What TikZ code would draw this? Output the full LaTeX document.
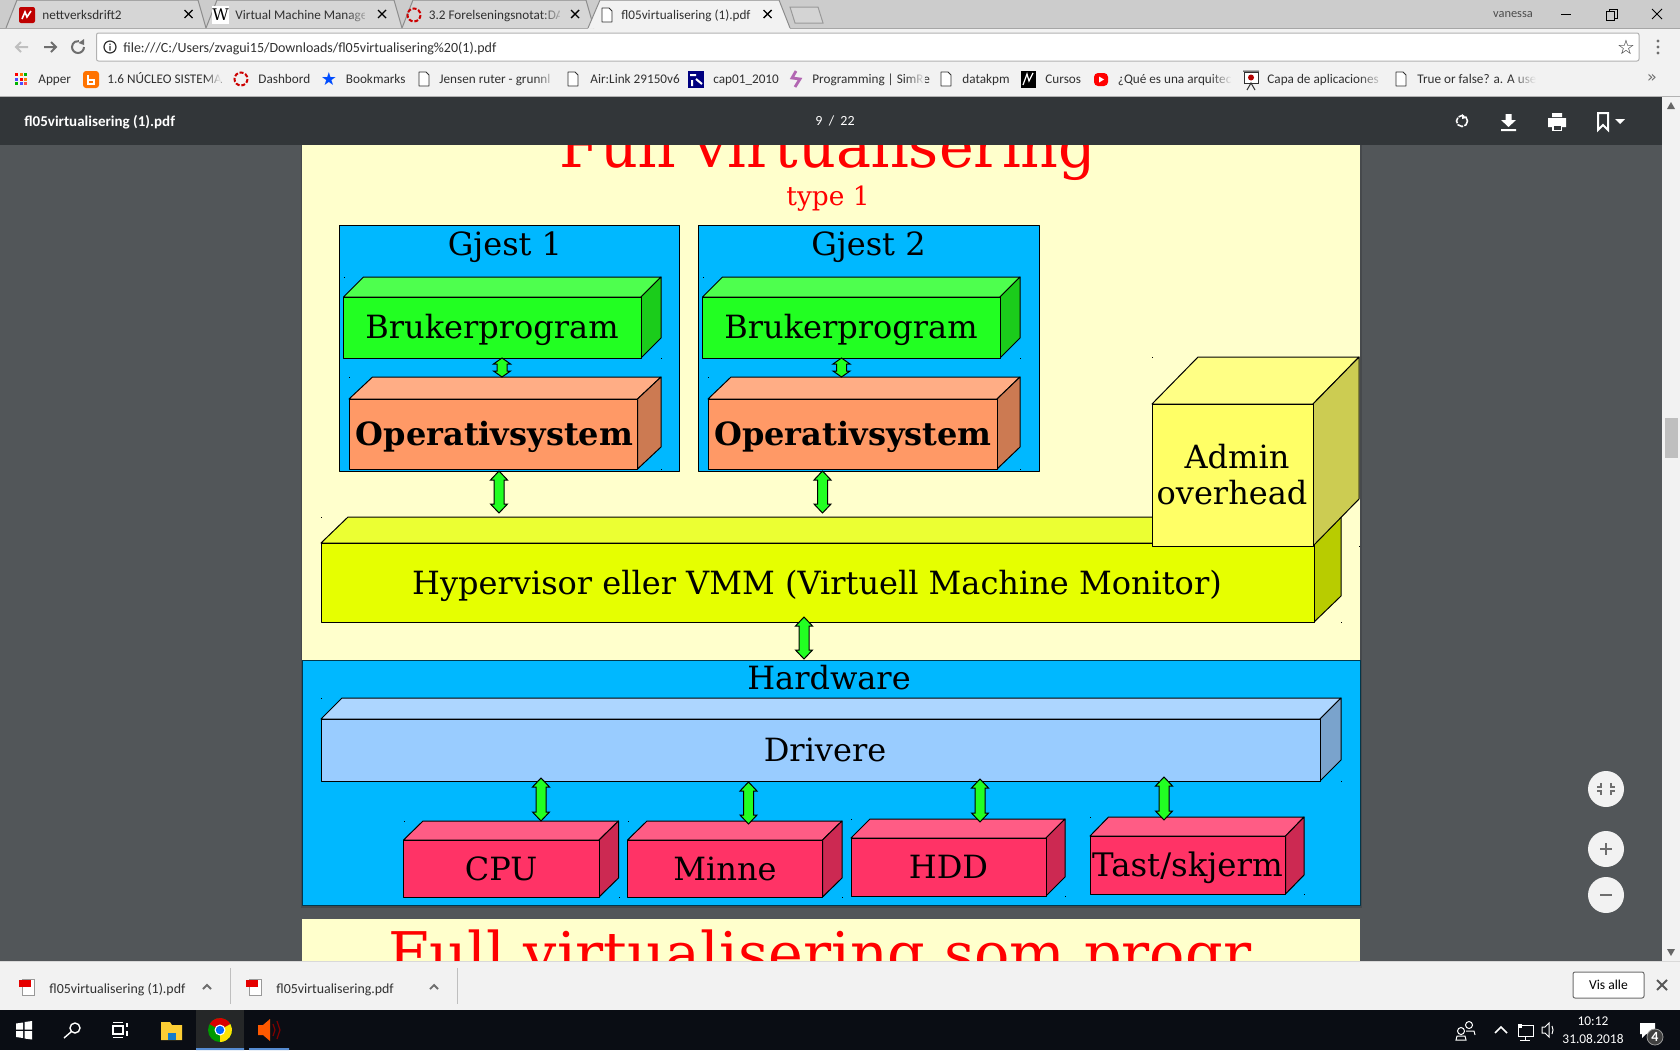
\documentclass[tikz,border=0pt]{standalone}
\usepackage{fontspec}
\setmainfont{DejaVu Serif}
\newfontfamily\uifont{Carlito}
\newfontfamily\symfont{DejaVu Sans}
\usetikzlibrary{calc,fadings}

\definecolor{greybg}{HTML}{525659}
\definecolor{pagebg}{HTML}{FFFFCC}
\definecolor{hwblue}{HTML}{00B8FF}
\definecolor{usergreen}{HTML}{22FF22}
\definecolor{osorange}{HTML}{FF9966}
\definecolor{vmmyellow}{HTML}{E6FF00}
\definecolor{adminyellow}{HTML}{FFFF66}
\definecolor{drvblue}{HTML}{99CCFF}
\definecolor{devred}{HTML}{FF3366}
\definecolor{tabgrey}{HTML}{CCCCCC}
\definecolor{tabon}{HTML}{F2F2F2}
\definecolor{taboff}{HTML}{D6D6D6}
\definecolor{pdfbar}{HTML}{323639}
\definecolor{taskbar}{HTML}{0A0D14}
\definecolor{uitext}{HTML}{303030}
\definecolor{uigrey}{HTML}{6E6E6E}

\tikzset{
	edge/.style={draw=black, line width=0.5pt, inner sep=0pt, outer sep=0pt, line join=round},
	boxlabel/.style={anchor=base, inner sep=0pt, font=\fontsize{16}{18}\selectfont},
	dblarrow/.style={draw=black, line width=0.5pt, fill=usergreen, line join=miter},
	uilabel/.style={anchor=base west, inner sep=0pt, text=uitext, font=\uifont\fontsize{6.6}{8}\selectfont},
	whitelabel/.style={inner sep=0pt, text=white, font=\uifont\fontsize{6.7}{8}\selectfont},
	iconline/.style={draw=uigrey, line width=0.6pt, line cap=round, line join=round},
}

\newcommand{\threebox}[8]{%
	\draw[edge, fill=#8!80!white] (#2,#3) -- ({#2+#6},{#3-#7}) -- ({#4+#6},{#3-#7}) -- (#4,#3) -- cycle;
	\draw[edge, fill=#8!80!black] (#4,#3) -- ({#4+#6},{#3-#7}) -- ({#4+#6},{#5-#7}) -- (#4,#5) -- cycle;
	\node[edge, fill=#8, anchor=north west, minimum width={(#4-#2)*0.5pt}, minimum height={(#5-#3)*0.5pt}] (#1) at (#2,#3) {};
	\coordinate (#1-top) at (#4,{#3-#7});
	\fill[black] (#2,{#3-#7}) rectangle ++(1,1);
	\fill[black] ({#4+#6},#5) rectangle ++(1,1);
}
\newcommand{\updown}[6][4.5pt]{%
	\draw[dblarrow] let \p1=(#3), \p2=(#4) in
		({#2*0.5pt},{\y1+(#5)*0.5pt}) -- ({#2*0.5pt+4.25pt},{\y1+(#5)*0.5pt-#1}) -- ({#2*0.5pt+2.5pt},{\y1+(#5)*0.5pt-#1})
		-- ({#2*0.5pt+2.5pt},{\y2+(#6)*0.5pt+#1}) -- ({#2*0.5pt+4.25pt},{\y2+(#6)*0.5pt+#1}) -- ({#2*0.5pt},{\y2+(#6)*0.5pt})
		-- ({#2*0.5pt-4.25pt},{\y2+(#6)*0.5pt+#1}) -- ({#2*0.5pt-2.5pt},{\y2+(#6)*0.5pt+#1})
		-- ({#2*0.5pt-2.5pt},{\y1+(#5)*0.5pt-#1}) -- ({#2*0.5pt-4.25pt},{\y1+(#5)*0.5pt-#1}) -- cycle;
}
\newcommand{\docicon}[2]{%
	\draw[iconline, draw=uitext, line width=0.4pt, fill=white] (#1-5,#2-7) -- (#1+2,#2-7) -- (#1+5,#2-4) -- (#1+5,#2+7) -- (#1-5,#2+7) -- cycle;
}
\newcommand{\dashring}[2]{%
	\draw[draw=red!80!black, line width=1pt, dash pattern=on 2pt off 0.9pt] (#1,#2) circle (6.5);
}
\newcommand{\pdficon}[2]{%
	\fill[white] (#1-6,#2-8) rectangle (#1+6,#2+8);
	\draw[line width=0.3pt, draw=black!40] (#1-6,#2-8) rectangle (#1+6,#2+8);
	\fill[red!90!black] (#1-9,#2-7) rectangle (#1+3,#2);
}

\begin{document}
\begin{tikzpicture}[x=0.5pt, y=-0.5pt]
	\useasboundingbox (0,0) rectangle (1680,1050);
	\fill[greybg] (0,0) rectangle (1680,1050);

	% pdf pages
	\fill[black!15!greybg] (301,145) rectangle (1362,908);
	\fill[pagebg] (302,145) rectangle (1360,660);
	\fill[pagebg] (302,919) rectangle (1360,961);
	\node[anchor=base, inner sep=0pt, text=red, font=\fontsize{29.4}{32}\selectfont] (title) at (828,167) {Full virtualisering};
	\node[anchor=base, inner sep=0pt, text=red, font=\fontsize{13.2}{15}\selectfont] (subtitle) at (828,205) {type 1};
	\node[anchor=base, inner sep=0pt, text=red, font=\fontsize{29.4}{32}\selectfont] (nexttitle) at (820,974) {Full virtualisering som progr};

	\node[edge, fill=hwblue, anchor=north west, minimum width=170pt, minimum height=123pt] (gjest1) at (339.5,225) {};
	\node[edge, fill=hwblue, anchor=north west, minimum width=170.5pt, minimum height=123pt] (gjest2) at (698,225) {};
	\node[boxlabel] (gjest1txt) at (505,255) {Gjest 1};
	\node[boxlabel] (gjest2txt) at (868.5,255) {Gjest 2};

	\threebox{bruker1}{343.5}{297}{641}{358}{20}{20}{usergreen}
	\threebox{bruker2}{702.5}{297}{1000}{358}{20}{20}{usergreen}
	\threebox{os1}{349}{399}{637.5}{469}{23.5}{22}{osorange}
	\threebox{os2}{708}{399}{997}{469}{23}{22}{osorange}
	\node[boxlabel] (bruker1txt) at (492,338.5) {Brukerprogram};
	\node[boxlabel] (bruker2txt) at (851,338.5) {Brukerprogram};
	\node[boxlabel, font=\fontsize{16}{18}\selectfont\bfseries] (os1txt) at (494.5,445) {Operativsystem};
	\node[boxlabel, font=\fontsize{16}{18}\selectfont\bfseries] (os2txt) at (853,445) {Operativsystem};

	\updown[3pt]{502}{bruker1.south}{os1-top}{0}{0}
	\updown[3pt]{841.5}{bruker2.south}{os2-top}{0}{0}

	\threebox{vmm}{321}{543}{1314}{622}{27}{26}{vmmyellow}
	\node[boxlabel] (vmmtxt) at (817,594) {Hypervisor eller VMM (Virtuell Machine Monitor)};
	\threebox{admin}{1152}{404}{1313}{546}{46}{47}{adminyellow}
	\node[boxlabel] (admintxt) at (1237,468) {Admin};
	\node[boxlabel] (overheadtxt) at (1232,504) {overhead};

	\updown{499}{gjest1.south}{vmm-top}{0}{4}
	\updown{822.5}{gjest2.south}{vmm-top}{0}{4}

	% hardware
	\node[edge, draw=black!70!hwblue, fill=hwblue, anchor=north west, minimum width=529pt, minimum height=122.5pt] (hw) at (302,660) {};
	\updown{804}{vmm.south}{hw.north}{5}{1}
	\node[boxlabel] (hwtxt) at (829,689) {Hardware};
	\threebox{drivere}{321}{719}{1320}{781}{21}{21}{drvblue}
	\node[boxlabel] (driveretxt) at (825,761) {Drivere};

	\threebox{cpu}{403.5}{840}{599}{897}{19.5}{19}{devred}
	\threebox{minne}{627.5}{840}{822.5}{897}{19.5}{19}{devred}
	\threebox{hdd}{851}{838}{1046}{896}{19}{19}{devred}
	\threebox{tast}{1090}{836}{1285.5}{894}{18.5}{19}{devred}
	\node[boxlabel] (cputxt) at (501,880) {CPU};
	\node[boxlabel] (minnetxt) at (725,880) {Minne};
	\node[boxlabel] (hddtxt) at (948.5,878) {HDD};
	\node[boxlabel, font=\fontsize{16.2}{18}\selectfont] (tasttxt) at (1187.5,876) {Tast/skjerm};

	\updown{541}{drivere.south}{cpu-top}{3}{0}
	\updown{748.5}{drivere.south}{minne-top}{-1}{-3}
	\updown{980}{drivere.south}{hdd-top}{2}{-3}
	\updown{1164}{drivere.south}{tast-top}{4}{-3}

	% tab strip and browser bars
	\fill[tabgrey] (0,0) rectangle (1680,28);
	\fill[tabon] (0,28) rectangle (1680,97);
	\draw[black!35, line width=0.5pt] (0,28) -- (588,28) (790,28) -- (1680,28);
	\draw[black!30, line width=0.6pt] (0,96.5) -- (1680,96.5);
	\foreach \a/\b/\c/\d in {6/17/198/206, 206/217/394/402, 402/413/586/594}
		\draw[draw=black!45, fill=taboff, line width=0.5pt] (\a,28) -- (\b,0) -- (\c,0) -- (\d,28);
	\draw[draw=black!45, fill=tabon, line width=0.5pt] (588,28) -- (600,0) -- (779,0) -- (790,28);
	\draw[draw=black!40, fill=tabgrey!85!white, line width=0.5pt] (790,7) -- (818,7) -- (823,23) -- (795,23) -- cycle;
	\node[uilabel] (tab1) at (42,19.5) {nettverksdrift2};
	\node[uilabel] (tab2) at (235,19.5) {Virtual Machine Manager};
	\node[uilabel] (tab3) at (428.5,19.5) {3.2 Forelseningsnotat:DAT};
	\node[uilabel] (tab4) at (621,19.5) {fl05virtualisering (1).pdf};
	\fill[taboff, path fading=west] (345,3) rectangle (372,26);
	\fill[taboff, path fading=west] (540,3) rectangle (565,26);
	\fill[taboff] (365,3) rectangle (372,26);
	\fill[taboff] (560,3) rectangle (569,26);
	\foreach \x in {188.5,382,575,767.5}
		\draw[black, line width=0.7pt] (\x-4,10) -- (\x+4,18) (\x+4,10) -- (\x-4,18);
	\fill[red!75!black, rounded corners=1pt] (19,7) rectangle (35,23);
	\draw[white, line width=0.8pt] (22,19) -- (25,12) -- (27,17) -- (31,11);
	\fill[white] (212,6) rectangle (229,24);
	\node[inner sep=0pt, font=\fontsize{8}{9}\selectfont] (wicon) at (220.5,15) {W};
	\dashring{414}{15}
	\docicon{607}{15}

	% window buttons
	\node[inner sep=0pt, text=black!70, font=\uifont\fontsize{6.2}{8}\selectfont] (user) at (1513,15) {vanessa};
	\draw[black, line width=0.5pt] (1561,14) -- (1571,14);
	\draw[black, line width=0.5pt] (1606,11) rectangle (1614,20) (1609,11) -- (1609,9) -- (1617,9) -- (1617,18) -- (1614,18);
	\draw[black, line width=0.5pt] (1652,9) -- (1662,19) (1662,9) -- (1652,19);

	% address bar
	\draw[draw=black!30, fill=white, rounded corners=1pt, line width=0.5pt] (96.5,33) rectangle (1639,61);
	\node[uilabel, font=\uifont\fontsize{7}{8}\selectfont] (url) at (123,52) {file:///C:/Users/zvagui15/Downloads/fl05virtualisering\%20(1).pdf};
	\draw[black!25, line width=1pt] (16,47) -- (28,47) (21,42) -- (16,47) -- (21,52);
	\draw[uigrey, line width=1pt] (44,47) -- (56,47) (51,42) -- (56,47) -- (51,52);
	\draw[uigrey, line width=1pt] (84,47) arc (0:280:6);
	\fill[uigrey] (84,39) -- (84,45) -- (78.5,43) -- cycle;
	\draw[uitext, line width=0.6pt] (110,47) circle (6);
	\fill[uitext] (109.3,46) rectangle (110.7,50.5) (109.3,43.5) rectangle (110.7,45);
	\node[inner sep=0pt, text=uitext, font=\symfont\fontsize{10}{10}\selectfont] (star) at (1626,47) {☆};
	\foreach \y in {41,47,53}
		\fill[uigrey] (1658,\y) circle (1.6);

	% bookmarks
	\foreach \x/\t in {38/Apper, 107/1.6 NÚCLEO SISTEMA, 258/Dashbord, 345.5/Bookmarks, 439/Jensen ruter - grunnl, 590/Air:Link 29150v6, 713/cap01\_2010, 812/Programming | SimRe, 962/datakpm, 1045/Cursos, 1117.5/¿Qué es una arquitec, 1267/Capa de aplicaciones, 1417/True or false? a. A use}
		\node[uilabel] (bm\x) at (\x,83) {\t};
	\foreach \a/\b in {205/221, 535/556, 905/925, 1210/1232, 1358/1384, 1511/1536}
		\fill[tabon, path fading=west] (\a,70) rectangle (\b,90);
	\foreach \x in {424,573,946,1401}
		\docicon{\x}{79}
	\foreach \i/\j/\c in {0/0/red,1/0/orange,2/0/green!70!black,0/1/blue!70,1/1/red,2/1/orange,0/2/green!70!black,1/2/blue!70,2/2/red!70}
		\fill[\c] (15+\i*4.5,73+\j*4.5) rectangle ++(3.2,3.2);
	\fill[orange!90!red, rounded corners=1.5pt] (83,71) rectangle (99,88);
	\draw[white, line width=1pt] (88,75) -- (88,84) -- (94,84) -- (94,79.5) -- (88,79.5);
	\dashring{241}{79}
	\node[inner sep=0pt, text=blue!70!cyan, font=\symfont\fontsize{9}{9}\selectfont] (bmstar) at (329,79) {★};
	\fill[blue!50!black] (688,71) rectangle (704,88);
	\draw[white, line width=1pt] (690,75) -- (696,75) (696,79) -- (702,84) (692,86) -- (692,80);
	\draw[violet!60, line width=1.4pt] (796,71) -- (792,78) -- (800,79) -- (795,87);
	\fill[black] (1021,71) rectangle (1036,88);
	\draw[white, line width=0.6pt] (1023,85) -- (1027,74) -- (1029,81) -- (1033,73);
	\fill[red, rounded corners=2pt] (1094,73) rectangle (1108,86);
	\fill[white] (1099,76.5) -- (1099,82.5) -- (1104,79.5) -- cycle;
	\draw[uitext, line width=0.5pt, fill=white] (1244,72) rectangle (1258,83);
	\fill[red!70!black] (1251,77.5) circle (3);
	\draw[uitext, line width=0.5pt] (1247,90) -- (1251,83) -- (1255,90) (1243,71) -- (1259,71);
	\node[inner sep=0pt, text=uigrey, font=\symfont\fontsize{8}{8}\selectfont] (bmmore) at (1652,78) {»};

	% pdf toolbar
	\fill[pdfbar] (0,97) rectangle (1662,145);
	\node[whitelabel, anchor=base west, font=\uifont\bfseries\fontsize{7.5}{8}\selectfont] (pdfname) at (24,126) {fl05virtualisering (1).pdf};
	\node[whitelabel, anchor=base, font=\uifont\fontsize{7}{8}\selectfont] (pageno) at (835,125) {9\ \ /\ \ 22};
	\draw[white, line width=0.8pt, dash pattern=on 3pt off 0.6pt] (1462,121) circle (5.5);
	\fill[white] (1462,114) -- (1466,118) -- (1462,119) -- cycle;
	\fill[white] (1505.5,114) rectangle (1511.5,120) (1501,120) -- (1516,120) -- (1508.5,127) -- cycle (1501,129) rectangle (1516,131);
	\fill[white] (1552,113) rectangle (1562,117) (1548,118) rectangle (1566,127);
	\fill[white] (1552,124) rectangle (1562,131);
	\fill[pdfbar] (1553.5,125.5) rectangle (1560.5,129.5);
	\draw[white, line width=1pt, line join=miter] (1598,113) -- (1608,113) -- (1608,130) -- (1603,125) -- (1598,130) -- cycle;
	\fill[white] (1615,119) -- (1625,119) -- (1620,124) -- cycle;

	% scrollbar
	\fill[tabon] (1662,97) rectangle (1680,961);
	\fill[black!25] (1665,418) rectangle (1678,458);
	\fill[black!60] (1671,102) -- (1675,109) -- (1667,109) -- cycle;
	\fill[black!60] (1671,956) -- (1675,949) -- (1667,949) -- cycle;

	% zoom buttons
	\foreach \y in {789,849,895}
		\fill[tabon] (1606,\y) circle (18);
	\draw[uigrey, line width=0.7pt] (1601,783) -- (1601,787) -- (1597,787) (1611,783) -- (1611,787) -- (1615,787) (1601,795) -- (1601,791) -- (1597,791) (1611,795) -- (1611,791) -- (1615,791);
	\draw[uigrey, line width=0.8pt] (1600,849) -- (1612,849) (1606,843) -- (1606,855) (1600,895) -- (1612,895);

	% download bar
	\fill[tabon] (0,961) rectangle (1680,1010);
	\draw[black!15, line width=0.5pt] (0,961.5) -- (1680,961.5);
	\pdficon{28}{987}
	\pdficon{255}{987}
	\node[uilabel, font=\uifont\fontsize{6.95}{8}\selectfont] (dl1) at (49,993) {fl05virtualisering (1).pdf};
	\node[uilabel, font=\uifont\fontsize{6.95}{8}\selectfont] (dl2) at (276,993) {fl05virtualisering.pdf};
	\foreach \x in {207,434}
		\draw[uigrey, line width=0.9pt] (\x-4,989) -- (\x,985) -- (\x+4,989);
	\foreach \x in {230,457}
		\draw[black!25, line width=0.5pt] (\x,968) -- (\x,1004);
	\node[draw=uigrey, fill=white, rounded corners=1pt, line width=0.5pt, text=black, minimum width=35.5pt, minimum height=13pt, inner sep=0pt, font=\uifont\fontsize{6.8}{8}\selectfont] (visalle) at (1608.5,985) {Vis alle};
	\draw[uigrey!80!black, line width=1pt] (1657,980) -- (1667,990) (1667,980) -- (1657,990);

	% taskbar
	\fill[taskbar] (0,1010) rectangle (1680,1050);
	\fill[black!55!greybg] (196,1010) rectangle (244,1050);
	\fill[cyan!50!blue!70!white] (196,1048) rectangle (244,1050) (249,1048) rectangle (289,1050);
	\fill[white] (16,1023.5) -- (23,1022.5) -- (23,1029.5) -- (16,1029.5) -- cycle;
	\fill[white] (24.5,1022) -- (32,1021) -- (32,1029.5) -- (24.5,1029.5) -- cycle;
	\fill[white] (16,1031) -- (23,1031) -- (23,1038) -- (16,1037) -- cycle;
	\fill[white] (24.5,1031) -- (32,1031) -- (32,1039.5) -- (24.5,1038.5) -- cycle;
	\draw[white, line width=0.7pt] (75,1028) circle (5) (71.5,1031.5) -- (64,1038);
	\draw[white, line width=0.6pt] (113,1026) rectangle (123,1034) (113,1022.5) -- (123,1022.5) (113,1037.5) -- (123,1037.5) (127,1023) -- (127,1027) (127,1031) -- (127,1036);
	\fill[yellow!55!orange!80!white] (161,1022) -- (170,1022) -- (172,1025) -- (182,1025) -- (182,1040) -- (161,1040) -- cycle;
	\fill[cyan!60!blue] (168,1033) rectangle (176,1040);
	\fill[green!60!black] (220,1030) circle (12);
	\fill[red!85!black] (220,1030) -- (209.6,1024) arc (-150:-30:12) -- cycle;
	\fill[yellow!85!orange] (220,1030) -- (230.4,1024) arc (-30:90:12) -- cycle;
	\fill[white] (220,1030) circle (5.5);
	\fill[blue!60!cyan] (220,1030) circle (4.2);
	\fill[orange!70!red] (258,1025) -- (263,1025) -- (270,1019) -- (270,1041) -- (263,1035) -- (258,1035) -- cycle;
	\draw[red!50!black, line width=0.6pt] (273,1024) -- (275,1030) -- (273,1036) (277,1021) -- (280,1030) -- (277,1039);

	% tray
	\draw[white, line width=0.5pt] (1469,1025) circle (3.5) (1461,1031) circle (3.5) (1456,1040) -- (1457,1036) -- (1465,1036) -- (1466,1040) -- cycle (1466,1031) -- (1474,1031) -- (1475,1035);
	\draw[white, line width=0.8pt] (1495,1033) -- (1501,1027) -- (1507,1033);
	\draw[white, line width=0.5pt] (1518,1025) rectangle (1533,1036) (1525,1036) -- (1525,1040) (1520,1040) -- (1530,1040);
	\fill[white] (1518,1024) rectangle (1522,1028);
	\draw[white, line width=0.5pt] (1542,1027) -- (1545,1027) -- (1549,1023) -- (1549,1037) -- (1545,1033) -- (1542,1033) -- cycle (1552,1026) -- (1553,1030) -- (1552,1034);
	\node[whitelabel] (clock) at (1593,1021) {10:12};
	\node[whitelabel] (date) at (1593,1038.5) {31.08.2018};
	\fill[white] (1640,1023) -- (1655,1023) -- (1655,1034) -- (1646,1034) -- (1642,1038) -- (1642,1034) -- (1640,1034) -- cycle;
	\node[circle, draw=white!60!black, fill=black!75, minimum size=8pt, inner sep=0pt, text=white, font=\uifont\bfseries\fontsize{7}{7}\selectfont] (badge) at (1655,1037) {4};
\end{tikzpicture}
\end{document}
